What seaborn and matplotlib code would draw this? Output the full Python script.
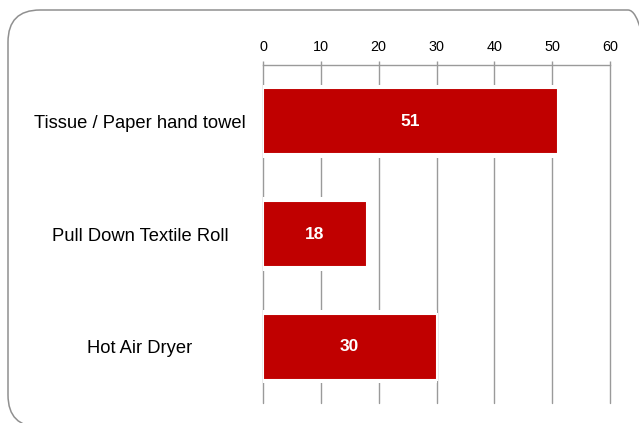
import matplotlib
matplotlib.use("Agg")
import matplotlib.pyplot as plt
import matplotlib.patches as mpatches
import seaborn as sns
import pandas as pd

# donnees du graphique
categories = ["Tissue / Paper hand towel", "Pull Down Textile Roll", "Hot Air Dryer"]
values = [51, 18, 30]
xticks = [0, 10, 20, 30, 40, 50, 60]

df = pd.DataFrame({"category": categories, "value": values})

sns.set_style("white")
plt.rcParams["font.family"] = ["Liberation Sans", "DejaVu Sans"]

fig = plt.figure(figsize=(6.39, 4.23), dpi=100)
ax = fig.add_axes([263 / 639, 1 - 403 / 423, (610 - 263) / 639, (403 - 65) / 423])

# cadre arrondi autour du graphique (deborde a droite et en bas)
frame = mpatches.FancyBboxPatch((0.08, -0.04), 6.52, 4.17,
                                boxstyle="round,pad=0,rounding_size=0.32",
                                transform=fig.dpi_scale_trans, facecolor="none",
                                edgecolor="#909090", linewidth=1.1, zorder=0)
fig.patches.append(frame)

# fond blanc qui coupe les lignes de grille autour des barres
sns.barplot(data=df, x="value", y="category", orient="h", color="white",
            width=0.65, saturation=1, linewidth=0, ax=ax, zorder=2)
sns.barplot(data=df, x="value", y="category", orient="h", color="#C00000",
            width=0.585, saturation=1, edgecolor="white", linewidth=1.5,
            ax=ax, zorder=3)

ax.bar_label(ax.containers[1], label_type="center", color="white",
             fontsize=12.5, fontweight="bold", zorder=4)

ax.set_xlim(0, 60)
ax.set_ylim(2.5, -0.5)
ax.set_xticks(xticks)
ax.xaxis.tick_top()
ax.tick_params(axis="x", length=3, color="#999999", labelsize=10.4, pad=5,
               width=1, direction="out", labelcolor="black")
ax.tick_params(axis="y", length=0, labelsize=13.2, pad=88.5, labelcolor="black")
for lab in ax.get_yticklabels():
    lab.set_horizontalalignment("center")

ax.grid(axis="x", color="#9a9a9a", linewidth=1)
for gl in ax.get_xgridlines():
    gl.set_clip_on(False)
ax.set_axisbelow(True)
for side in ["left", "right", "bottom"]:
    ax.spines[side].set_visible(False)
ax.spines["top"].set_color("#9a9a9a")
ax.spines["top"].set_linewidth(1)
ax.set_xlabel("")
ax.set_ylabel("")

plt.savefig("out.png", dpi=100)
